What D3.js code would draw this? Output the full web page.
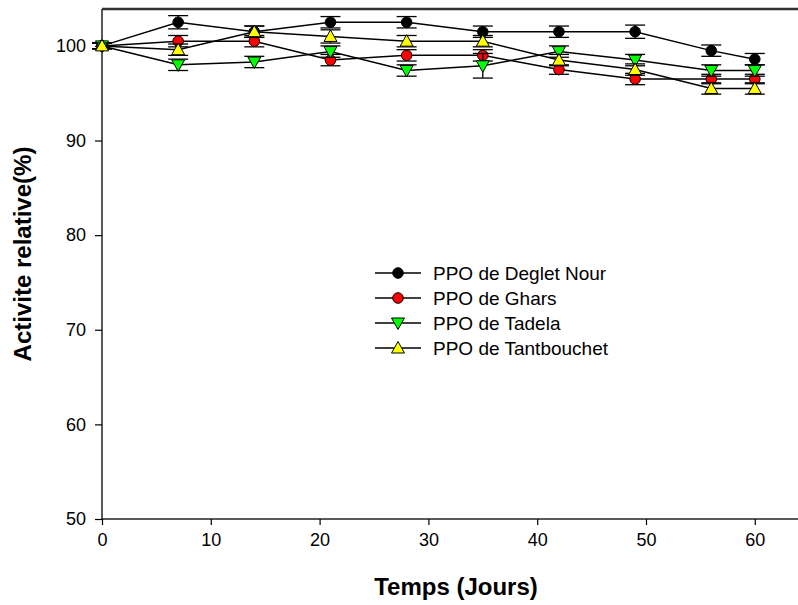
<!DOCTYPE html>
<html><head><meta charset="utf-8">
<script src="https://cdn.jsdelivr.net/npm/d3@7"></script>
<style>body{margin:0;background:#fff}svg{display:block}text{font-family:Arial,"Liberation Sans",sans-serif}</style>
</head><body><svg id="c" width="798" height="605"></svg>
<script>
const days = [0, 7, 14, 21, 28, 35, 42, 49, 56, 60];
const degletNour = [100, 102.5, 101.5, 102.5, 102.5, 101.5, 101.5, 101.5, 99.5, 98.6];
const degletNourErr = [0.3, 0.7, 0.6, 0.6, 0.6, 0.6, 0.6, 0.7, 0.6, 0.6];
const ghars = [100, 100.5, 100.5, 98.5, 99, 99, 97.5, 96.5, 96.5, 96.5];
const gharsErr = [0.3, 0.6, 0.6, 0.6, 0.6, 0.6, 0.5, 0.6, 0.5, 0.5];
const tadela = [100, 98, 98.3, 99.4, 97.4, 97.9, 99.4, 98.5, 97.4, 97.4];
const tadelaErr = [0.3, 0.6, 0.6, 0.6, 0.6, 1.3, 0.6, 0.6, 0.6, 0.6];
const tantbouchet = [100, 99.6, 101.5, 101, 100.5, 100.5, 98.5, 97.5, 95.5, 95.5];
const tantbouchetErr = [0.3, 0.6, 0.6, 0.7, 0.6, 0.6, 0.6, 0.6, 0.6, 0.6];
const seriesNames = ["PPO de Deglet Nour", "PPO de Ghars", "PPO de Tadela", "PPO de Tantbouchet"];
const xTicks = [0, 10, 20, 30, 40, 50, 60];
const yTicks = [50, 60, 70, 80, 90, 100];

const series = [
  {name: seriesNames[0], v: degletNour, e: degletNourErr, fill: "#000000", shape: "circle"},
  {name: seriesNames[1], v: ghars, e: gharsErr, fill: "#ff0000", shape: "circle"},
  {name: seriesNames[2], v: tadela, e: tadelaErr, fill: "#00ff00", shape: "down"},
  {name: seriesNames[3], v: tantbouchet, e: tantbouchetErr, fill: "#ffff00", shape: "up"}
];

const svg = d3.select("#c");
const x = d3.scaleLinear().domain([0, 64]).range([102, 798.3]);
const y = d3.scaleLinear().domain([50, 103.9]).range([519, 9]);

function marker(g, shape, fill) {
  if (shape === "circle") {
    g.append("circle").attr("r", 5.3).attr("fill", fill).attr("stroke", "#000").attr("stroke-width", 1);
  } else {
    const s = shape === "up" ? 1 : -1;
    const pts = [[0, -6.5 * s], [6.5, 5 * s], [-6.5, 5 * s]];
    g.append("path").attr("d", "M" + pts.map(p => p.join(",")).join("L") + "Z")
      .attr("fill", fill).attr("stroke", "#000").attr("stroke-width", 1);
  }
}

// axes
const xAxis = svg.append("g").attr("transform", "translate(0,519)")
  .call(d3.axisBottom(x).tickValues(xTicks).tickSize(6).tickPadding(8));
const yAxis = svg.append("g").attr("transform", "translate(102,0)")
  .call(d3.axisLeft(y).tickValues(yTicks).tickSize(7).tickPadding(9));
[xAxis, yAxis].forEach(a => {
  a.select(".domain").attr("stroke", "#222").attr("stroke-width", 1.5);
  a.selectAll(".tick line").attr("stroke", "#000").attr("stroke-width", 1.2);
  a.selectAll("text").attr("font-size", 18).attr("fill", "#000").attr("font-family", "Arial, 'Liberation Sans', sans-serif");
});
xAxis.select(".domain").attr("d", "M102,0H798");
yAxis.select(".domain").attr("d", "M0,519V9");
// top frame line
svg.append("line").attr("x1", 102).attr("x2", 798).attr("y1", y(103.9)).attr("y2", y(103.9))
  .attr("stroke", "#333").attr("stroke-width", 2.5);

const line = d3.line().x((d, i) => x(days[i])).y(d => y(d));

series.forEach(s => {
  const g = svg.append("g");
  g.append("path").attr("d", line(s.v)).attr("fill", "none").attr("stroke", "#000").attr("stroke-width", 1.5);
  s.v.forEach((v, i) => {
    const cx = x(days[i]), e = s.e[i];
    g.append("line").attr("x1", cx).attr("x2", cx).attr("y1", y(v - e)).attr("y2", y(v + e)).attr("stroke", "#000").attr("stroke-width", 1.3);
    [v - e, v + e].forEach(val => {
      g.append("line").attr("x1", cx - 10).attr("x2", cx + 10).attr("y1", y(val)).attr("y2", y(val)).attr("stroke", "#000").attr("stroke-width", 1.3);
    });
  });
  s.v.forEach((v, i) => {
    marker(g.append("g").attr("transform", `translate(${x(days[i])},${y(v)})`), s.shape, s.fill);
  });
});

// legend
const lg = svg.append("g");
series.forEach((s, i) => {
  const ly = 273 + i * 25;
  lg.append("line").attr("x1", 375).attr("x2", 421).attr("y1", ly).attr("y2", ly).attr("stroke", "#000").attr("stroke-width", 1.5);
  marker(lg.append("g").attr("transform", `translate(398,${ly})`), s.shape, s.fill);
  lg.append("text").attr("x", 433).attr("y", ly + 6.5).attr("font-size", 19).text(s.name);
});

// titles
svg.append("text").attr("x", 456).attr("y", 595).attr("text-anchor", "middle")
  .attr("font-size", 24).attr("font-weight", "bold").text("Temps (Jours)");
svg.append("text").attr("transform", "translate(31,254) rotate(-90)").attr("text-anchor", "middle")
  .attr("font-size", 24).attr("font-weight", "bold").text("Activite relative(%)");
</script></body></html>
